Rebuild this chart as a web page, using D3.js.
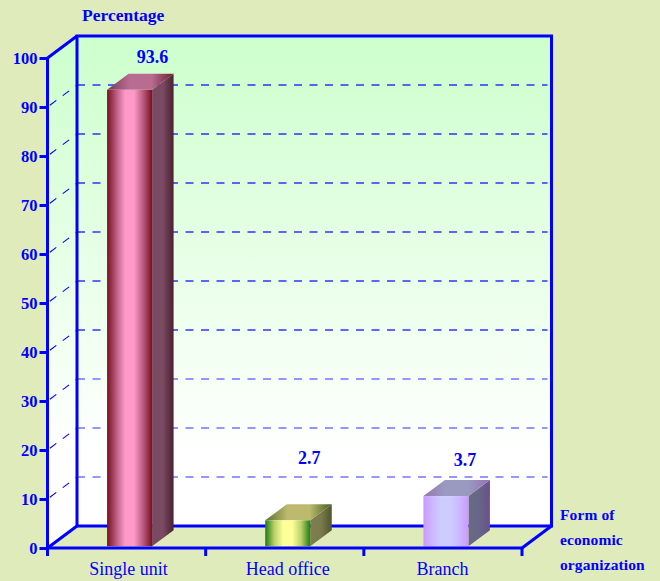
<!DOCTYPE html>
<html><head><meta charset="utf-8">
<script src="https://cdnjs.cloudflare.com/ajax/libs/d3/7.8.5/d3.min.js"></script>
<style>html,body{margin:0;padding:0;background:#e0ebbb}svg{display:block}text{font-family:"Liberation Serif",serif;fill:#0000ff}</style>
</head><body><svg id="c" width="660" height="581"></svg>
<script>
const categories = ["Single unit", "Head office", "Branch"];
const valueLabels = ["93.6", "2.7", "3.7"];
const drawnHeights = [93.5, 5.65, 10.6];
const labelLevels = [99, 17.2, 16.7];
const yTicks = [0,10,20,30,40,50,60,70,80,90,100];
const xTitle = ["Form of", "economic", "organization"];
const yTitle = "Percentage";
const frontStops = [["#7a0f1e","#b85a80","#ff99c8","#ff99c8","#b85a80","#7a0f1e"],["#1f7a10","#b8d068","#ffff99","#ffff99","#b8d068","#1f7a10"],["#cc99ff","#ccb8ff","#ccccff","#ccccff","#ccb8ff","#cc99ff"]];
const sideStops = [["#7a4a62","#7a4a62","#4a2030"],["#7f7f50","#7a7a4c","#50552c"],["#6a6a80","#66668a","#6a5088"]];
const topStops = [["#7a3a50","#b96b92","#b96b92","#6a2030"],["#5c7030","#bdb96e","#bdb96e","#3f6020"],["#9478b0","#9a9ac0","#9a9ac0","#9670b8"]];

const svg = d3.select("#c");
const defs = svg.append("defs");
const x0=47.5, x1=522, dx=29.5, dy=-22;
const y = d3.scaleLinear().domain([0,100]).range([548,58]);
const x = d3.scaleBand().domain(categories).range([x0,x1]);
const barW=45, bdx=21.5, bdy=-16, base=0.35;

function grad(id, cols){
  const g=defs.append("linearGradient").attr("id",id).attr("x1",0).attr("x2",1).attr("y1",0).attr("y2",0);
  cols.forEach((c,i)=>g.append("stop").attr("offset",i/(cols.length-1)).attr("stop-color",c));
}
const wg=defs.append("linearGradient").attr("id","wall").attr("gradientUnits","userSpaceOnUse").attr("x1",0).attr("x2",0).attr("y1",36).attr("y2",526);
wg.append("stop").attr("offset",0).attr("stop-color","#ccffcc");
wg.append("stop").attr("offset",0.85).attr("stop-color","#ffffff");
wg.append("stop").attr("offset",1).attr("stop-color","#ffffff");

const pts=a=>a.map(p=>p.join(",")).join(" ");
svg.append("polygon").attr("points",pts([[x0,y(0)],[x0,y(100)],[x0+dx,y(100)+dy],[x0+dx,y(0)+dy]])).attr("fill","url(#wall)");
svg.append("rect").attr("x",x0+dx).attr("y",y(100)+dy).attr("width",x1-x0).attr("height",y(0)-y(100)).attr("fill","url(#wall)");
yTicks.slice(1,-1).forEach(v=>{
  const o=v<=30?0.55:0.8;
  svg.append("line").attr("x1",x0+dx).attr("x2",x1+dx-4).attr("y1",y(v)+dy).attr("y2",y(v)+dy)
    .attr("stroke","#0000ff").attr("stroke-width",1.5).attr("stroke-opacity",o).attr("stroke-dasharray","8 7.5");
  svg.append("line").attr("x1",x0).attr("x2",x0+dx).attr("y1",y(v)).attr("y2",y(v)+dy)
    .attr("stroke","#0000ff").attr("stroke-width",1.1).attr("stroke-dasharray","8 8").attr("stroke-dashoffset",-3);
});
const sw=3;
const fr=svg.append("g").attr("fill","none").attr("stroke","#0000ff").attr("stroke-width",sw);
fr.append("polygon").attr("points",pts([[x0+dx,y(0)+dy],[x0+dx,y(100)+dy],[x1+dx,y(100)+dy],[x1+dx,y(0)+dy]]));
fr.append("path").attr("d",d3.line()([[x0,y(100)],[x0+dx,y(100)+dy]]));
fr.append("path").attr("d",d3.line()([[x0,y(0)],[x0+dx,y(0)+dy]]));
fr.append("path").attr("d",d3.line()([[x1,y(0)],[x1+dx,y(0)+dy]]));
categories.forEach((c,i)=>{
  const cx=x(c)+x.bandwidth()/2;
  const bx=cx+3-barW/2, by=y(drawnHeights[i]), bb=y(base);
  grad("f"+i,frontStops[i]);grad("s"+i,sideStops[i]);grad("t"+i,topStops[i]);
  svg.append("polygon").attr("points",pts([[bx+barW,by],[bx+barW+bdx,by+bdy],[bx+barW+bdx,bb+bdy],[bx+barW,bb]])).attr("fill",`url(#s${i})`);
  svg.append("polygon").attr("points",pts([[bx,by],[bx+bdx,by+bdy],[bx+barW+bdx,by+bdy],[bx+barW,by]])).attr("fill",`url(#t${i})`);
  svg.append("rect").attr("x",bx).attr("y",by).attr("width",barW).attr("height",bb-by).attr("fill",`url(#f${i})`);
  svg.append("text").attr("x",bx+barW/2+[23,21.5,19][i]).attr("y",y(labelLevels[i])).attr("text-anchor","middle").attr("font-weight","bold").attr("font-size",18).text(valueLabels[i]);
  svg.append("text").attr("x",cx+[2,3,-0.5][i]).attr("y",575).attr("text-anchor","middle").attr("font-size",18).text(c);
});
const ax=svg.append("g").attr("transform",`translate(${x0},0)`).call(d3.axisLeft(y).tickValues(yTicks).tickSize(8).tickPadding(2));
ax.selectAll("line,path").attr("stroke","#0000ff").attr("stroke-width",sw);
ax.select("path").attr("d",`M0,${y(100)}V${y(0)+8}`);
ax.selectAll("text").attr("font-size",16.5).attr("font-weight","bold").attr("font-family","Liberation Serif").attr("fill","#0000ff");
const bxis=svg.append("g").attr("transform",`translate(0,${y(0)})`).call(d3.axisBottom(x).tickValues([]).tickSize(0));
bxis.select("path").attr("stroke","#0000ff").attr("stroke-width",sw).attr("d",`M${x0},0H${x1}`);
d3.range(0,4).forEach(i=>{
  const t=x0+i*x.step();
  svg.append("line").attr("x1",t).attr("x2",t).attr("y1",y(0)).attr("y2",y(0)+8).attr("stroke","#0000ff").attr("stroke-width",sw);
});
svg.append("text").attr("x",82).attr("y",21).attr("font-weight","bold").attr("font-size",17.5).text(yTitle);
xTitle.forEach((t,i)=>svg.append("text").attr("x",560).attr("y",520+i*25).attr("font-weight","bold").attr("font-size",15.5).attr("letter-spacing",0.1).text(t));
</script></body></html>
